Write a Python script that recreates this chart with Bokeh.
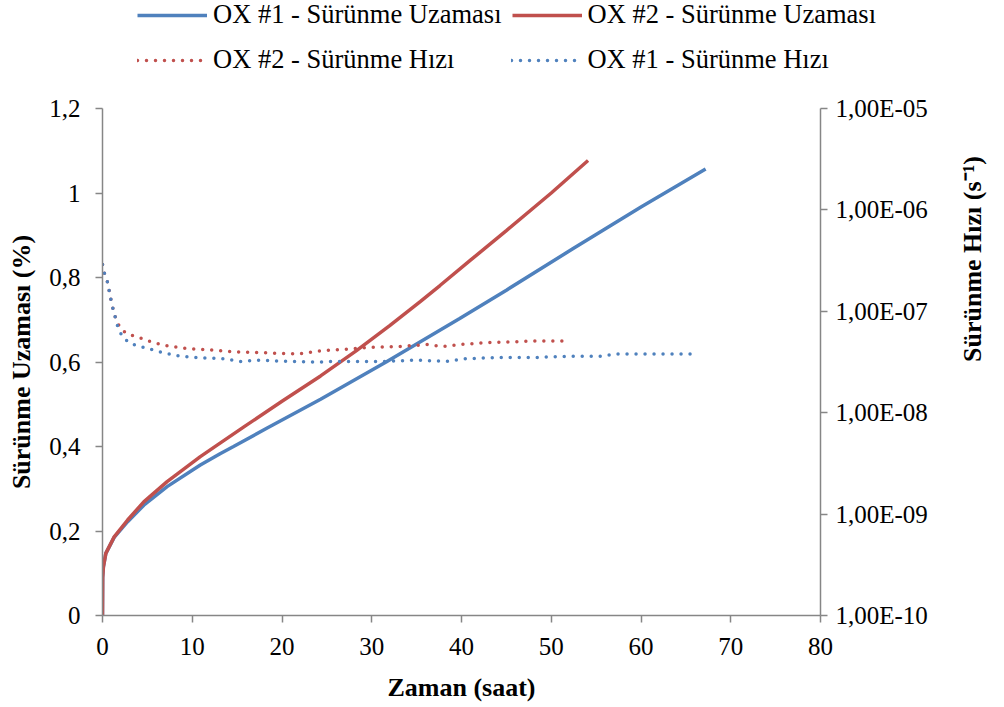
import math
from bokeh.plotting import figure
from bokeh.layouts import column
from bokeh.models import (Range1d, LogScale, LogAxis, FixedTicker,
                          CustomJSTickFormatter, Legend, LegendItem)
from bokeh.embed import file_html
from bokeh.resources import INLINE

# ---------------- data ----------------
# Sürünme Uzaması (%) vs Zaman (saat)
t_ox1_strain = [0, 0.02, 0.1, 0.37, 1.3, 2.8, 4.6, 7.2, 10.9, 13.1, 14.6, 18.3, 24.3,
                31.6, 39.8, 45, 52.4, 60, 67.2]
v_ox1_strain = [0, 0.09, 0.115, 0.147, 0.185, 0.222, 0.261, 0.305, 0.356, 0.383, 0.40,
                0.443, 0.512, 0.600, 0.703, 0.770, 0.868, 0.967, 1.057]

t_ox2_strain = [0, 0.02, 0.1, 0.37, 1.3, 2.8, 4.6, 7.2, 10.9, 13.1, 16, 20, 24.3, 28.3,
                32, 35.4, 37.6, 41, 45, 50, 54.1]
v_ox2_strain = [0, 0.09, 0.115, 0.147, 0.186, 0.226, 0.269, 0.317, 0.376, 0.408, 0.45,
                0.507, 0.567, 0.627, 0.686, 0.743, 0.781, 0.841, 0.911, 1.0, 1.077]

# Sürünme Hızı (1/s) vs Zaman (saat)
t_ox2_rate = [0, 0.2, 0.55, 0.73, 0.9, 1.1, 1.37, 1.6, 2.2, 2.9, 3.9, 5.7, 7.6, 9.4, 11.3,
              14.3, 17.9, 21.8, 24.6, 27, 29.4, 33.1, 36.1, 38, 39.8, 42.8, 45.7, 48.3, 51.3]
v_ox2_rate = [2.9e-7, 2.4e-7, 1.95e-7, 1.62e-7, 1.35e-7, 1.12e-7, 9.1e-8, 7.8e-8, 6.5e-8,
              5.9e-8, 5.6e-8, 4.9e-8, 4.5e-8, 4.3e-8, 4.2e-8, 4.0e-8, 3.9e-8, 3.8e-8,
              4.1e-8, 4.2e-8, 4.4e-8, 4.5e-8, 4.7e-8, 4.5e-8, 4.7e-8, 4.9e-8, 5.0e-8,
              5.1e-8, 5.1e-8]

t_ox1_rate = [0, 0.2, 0.55, 0.73, 0.9, 1.1, 1.37, 1.6, 1.8, 2.4, 3.1, 5, 6.8, 8.7, 10.6,
              13.5, 15.4, 17.2, 20.9, 23.9, 25.7, 27.6, 31.3, 35, 38.3, 40.2, 44.2, 48,
              51.7, 55.4, 57.2, 62.8, 66.1]
v_ox1_rate = [2.9e-7, 2.4e-7, 1.95e-7, 1.62e-7, 1.35e-7, 1.12e-7, 9.1e-8, 7.6e-8, 6.5e-8,
              5.4e-8, 4.8e-8, 4.3e-8, 3.9e-8, 3.6e-8, 3.5e-8, 3.4e-8, 3.2e-8, 3.3e-8,
              3.2e-8, 3.16e-8, 3.2e-8, 3.2e-8, 3.2e-8, 3.3e-8, 3.2e-8, 3.4e-8, 3.5e-8,
              3.5e-8, 3.6e-8, 3.6e-8, 3.8e-8, 3.8e-8, 3.8e-8]

x_ticks = [0, 10, 20, 30, 40, 50, 60, 70, 80]
y_ticks = [0, 0.2, 0.4, 0.6, 0.8, 1.0, 1.2]
rate_ticks = [1e-10, 1e-9, 1e-8, 1e-7, 1e-6, 1e-5]

labels = ["OX #1 - Sürünme Uzaması", "OX #2 - Sürünme Uzaması",
          "OX #2 - Sürünme Hızı", "OX #1 - Sürünme Hızı"]

BLUE = "#4F81BD"
RED = "#C0504D"
AXC = "#868686"
FONT = "Liberation Serif"
SOLID = dict(line_width=3.5)
DOTS = dict(line_width=3.5, line_dash="0 9", line_cap="round")


def no_align(fig):
    try:
        fig.frame_align = False
    except Exception:
        pass


# ---------------- legend strip ----------------
# the same series are drawn here far outside the visible ranges, only so that
# the legend has renderers with data to draw its glyphs from
leg = figure(width=1004, height=80, output_backend="svg", toolbar_location=None,
             x_range=Range1d(1000, 1001), y_range=Range1d(1000, 1001), min_border=0)
no_align(leg)
leg.axis.visible = False
leg.grid.visible = False
leg.outline_line_color = None
l1 = leg.line(t_ox1_strain, v_ox1_strain, line_color=BLUE, **SOLID)
l2 = leg.line(t_ox2_strain, v_ox2_strain, line_color=RED, **SOLID)
l3 = leg.line(t_ox2_rate, v_ox2_rate, line_color=RED, **DOTS)
l4 = leg.line(t_ox1_rate, v_ox1_rate, line_color=BLUE, **DOTS)


def mk_legend(items, loc, spacing):
    return Legend(items=items, orientation="horizontal", location=loc,
                  glyph_width=70, glyph_height=26, label_height=26,
                  label_standoff=6, spacing=spacing, padding=0, margin=0,
                  border_line_alpha=0, background_fill_alpha=0,
                  label_text_font=FONT, label_text_font_size="26.5px",
                  label_text_color="black")


leg.add_layout(mk_legend([LegendItem(label=labels[0], renderers=[l1]),
                          LegendItem(label=labels[1], renderers=[l2])], (137, 50), 10))
leg.add_layout(mk_legend([LegendItem(label=labels[2], renderers=[l3]),
                          LegendItem(label=labels[3], renderers=[l4])], (137, 5), 57))

# ---------------- main chart ----------------
p = figure(width=1004, height=627, output_backend="svg", toolbar_location=None,
           x_range=Range1d(0, 80), y_range=Range1d(0, 1.2),
           min_border_left=102, min_border_right=180, min_border_top=28,
           min_border_bottom=92)
no_align(p)
p.extra_y_ranges = {"rate": Range1d(1e-10, 1e-5)}
p.extra_y_scales = {"rate": LogScale()}
p.outline_line_color = None
p.xgrid.visible = False
p.ygrid.visible = False

p.line(t_ox1_strain, v_ox1_strain, line_color=BLUE, **SOLID)
p.line(t_ox2_strain, v_ox2_strain, line_color=RED, **SOLID)
p.line(t_ox2_rate, v_ox2_rate, y_range_name="rate", line_color=RED, **DOTS)
p.line(t_ox1_rate, v_ox1_rate, y_range_name="rate", line_color=BLUE, **DOTS)


def style(ax):
    ax.axis_line_color = AXC
    ax.axis_line_width = 1.5
    ax.major_tick_line_color = AXC
    ax.major_tick_line_width = 1.5
    ax.major_tick_out = 7
    ax.major_tick_in = 0
    ax.minor_tick_line_color = None
    ax.major_label_text_font = FONT
    ax.major_label_text_font_size = "25px"
    ax.major_label_text_color = "black"
    ax.axis_label_text_font = FONT
    ax.axis_label_text_font_size = "26px"
    ax.axis_label_text_font_style = "bold"
    ax.axis_label_text_color = "black"


xa = p.xaxis[0]
style(xa)
xa.ticker = FixedTicker(ticks=x_ticks)
xa.major_label_standoff = 15
xa.axis_label = "Zaman (saat)"
xa.axis_label_standoff = 15

ya = p.yaxis[0]
style(ya)
ya.ticker = FixedTicker(ticks=y_ticks)
ya.formatter = CustomJSTickFormatter(
    code="return (Math.round(tick*10)/10).toString().replace('.', ',');")
ya.major_label_standoff = 15
ya.axis_label = "Sürünme Uzaması (%)"
ya.axis_label_standoff = 10

ra = LogAxis(y_range_name="rate")
style(ra)
ra.ticker = FixedTicker(ticks=rate_ticks)
ra.formatter = CustomJSTickFormatter(
    code="const e = Math.round(Math.log10(tick)); const a = Math.abs(e);"
         "return '1,00E' + (e < 0 ? '-' : '+') + (a < 10 ? '0' : '') + a;")
ra.major_label_standoff = 8
ra.axis_label = "Sürünme Hızı (s⁻¹)"
ra.axis_label_standoff = 42
try:
    ra.axis_label_orientation = math.pi / 2
except Exception:
    pass
p.add_layout(ra, "right")

layout = column(leg, p, spacing=0)
open("out.html", "w").write(file_html(layout, INLINE))
